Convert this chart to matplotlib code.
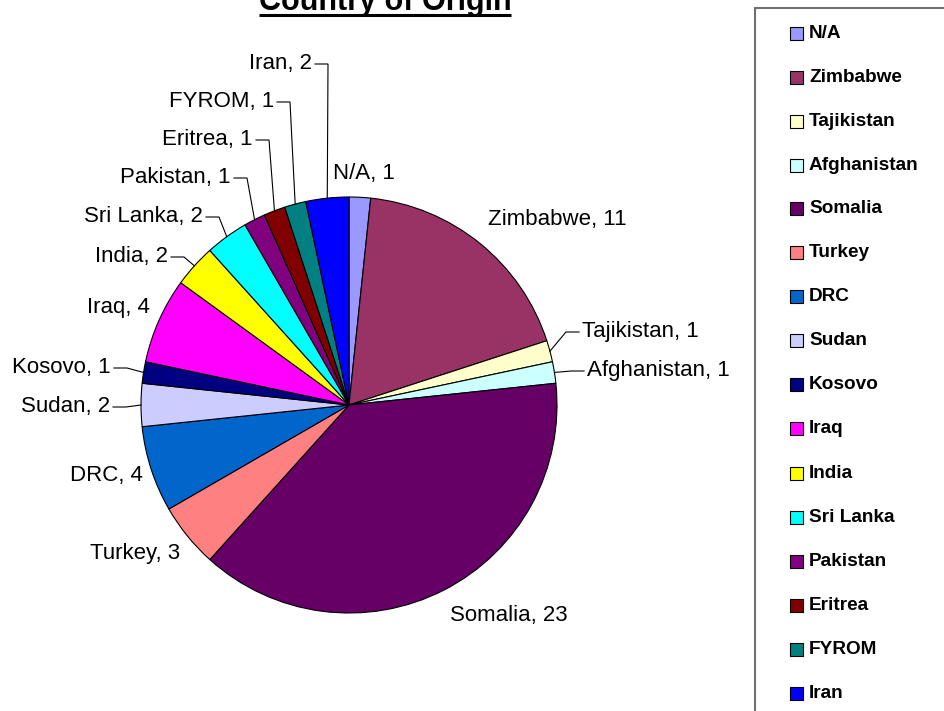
import numpy as np
import matplotlib
matplotlib.use("Agg")
import matplotlib.pyplot as plt
from matplotlib.patches import Rectangle

plt.rcParams["font.family"] = ["Liberation Sans", "DejaVu Sans"]

### DATA
countries = ["N/A", "Zimbabwe", "Tajikistan", "Afghanistan", "Somalia", "Turkey",
             "DRC", "Sudan", "Kosovo", "Iraq", "India", "Sri Lanka", "Pakistan",
             "Eritrea", "FYROM", "Iran"]
counts = [1, 11, 1, 1, 23, 3, 4, 2, 1, 4, 2, 2, 1, 1, 1, 2]
colors = ["#9999FF", "#993366", "#FFFFCC", "#CCFFFF", "#660066", "#FF8080",
          "#0066CC", "#CCCCFF", "#000080", "#FF00FF", "#FFFF00", "#00FFFF",
          "#800080", "#800000", "#008080", "#0000FF"]

### LAYOUT (pixels from top-left)
W, H = 945, 711
cx, cy, r = 349, 405, 208
# label anchor x, y, alignment, leader line
label_layout = [
    (364, 173, "center", False),
    (488, 220, "left", False),
    (582, 332, "left", True),
    (587, 371, "left", True),
    (509, 615, "center", False),
    (180, 553, "right", False),
    (143, 476, "right", False),
    (110, 407, "right", True),
    (111, 368, "right", True),
    (150, 308, "right", False),
    (168, 257, "right", True),
    (203, 217, "right", True),
    (231, 178, "right", True),
    (253, 140, "right", True),
    (274, 102, "right", True),
    (312, 64, "right", True),
]

fig = plt.figure(figsize=(W / 100, H / 100), dpi=100)
ax = fig.add_axes([0, 0, 1, 1])

wedges, _ = ax.pie(counts, colors=colors, startangle=90, counterclock=False,
                   center=(cx, H - cy), radius=r,
                   wedgeprops=dict(edgecolor="black", linewidth=0.8))
ax.set_aspect("equal")
ax.set_xlim(0, W)
ax.set_ylim(0, H)
ax.axis("off")

# data labels, leader line goes to the middle of the wedge's arc
for name, n, w, (lx, ly, ha, leader) in zip(countries, counts, wedges, label_layout):
    ax.text(lx, H - ly, f"{name}, {n}", ha=ha, va="center", fontsize=16, color="black")
    if leader:
        mid = np.deg2rad((w.theta1 + w.theta2) / 2)
        ex = cx + r * np.cos(mid)
        ey = (H - cy) + r * np.sin(mid)
        d = 1 if ha == "right" else -1
        ax.plot([lx + 3 * d, lx + 16 * d, ex], [H - ly, H - ly, ey],
                color="black", lw=0.8, solid_joinstyle="miter")

# legend box
ax.add_patch(Rectangle((755, -10), 200, H - 7.5 + 10, fill=False,
                       edgecolor="#707070", lw=1.5))
for i, (name, c) in enumerate(zip(countries, colors)):
    ry = 33 + i * 44
    ax.add_patch(Rectangle((790, H - ry - 6.5), 13, 13, facecolor=c,
                           edgecolor="black", lw=0.8))
    ax.text(809, H - ry, name, ha="left", va="center", fontsize=13.7,
            fontweight="bold", color="black")

# title, underlined (cut off at the top as in the original)
t = fig.text(385 / W, 1 - 10 / H, "Country of Origin", ha="center", va="baseline",
             fontsize=22, fontweight="bold")
fig.canvas.draw()
bb = t.get_window_extent()
ax.plot([bb.x0, bb.x1], [H - 14.5, H - 14.5], color="black", lw=2.2,
        solid_capstyle="butt")

fig.savefig("out.png", dpi=100)
